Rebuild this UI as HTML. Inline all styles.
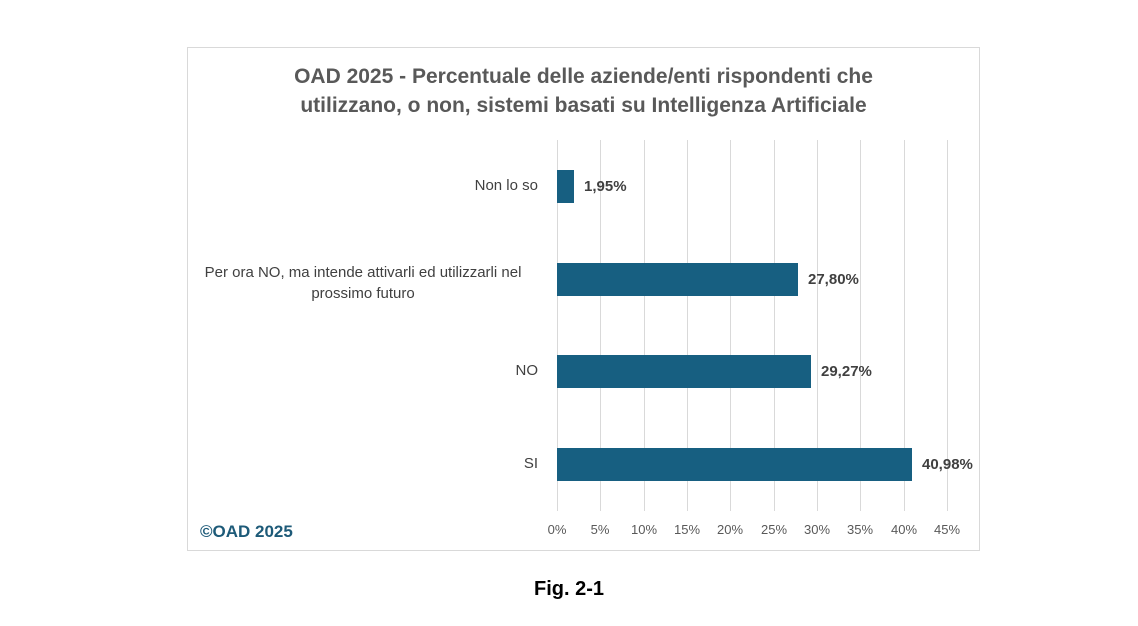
<!DOCTYPE html>
<html><head><meta charset="utf-8"><style>
body{margin:0;width:1138px;height:626px;background:#fff;position:relative;font-family:"Liberation Sans",sans-serif;overflow:hidden}
.box{position:absolute;left:187px;top:47px;width:791px;height:502px;border:1px solid #d9d9d9}
.t{position:absolute;color:#595959}
.g{position:absolute;top:140px;height:371px;width:1px;background:#d9d9d9}
.bar{position:absolute;left:557px;height:33px;background:#175f81}
.lab{position:absolute;font-size:15px;color:#404040;text-align:right}
.val{position:absolute;font-size:15px;font-weight:bold;color:#404040}
.tick{position:absolute;top:522px;font-size:13px;color:#595959;width:40px;margin-left:-20px;text-align:center}
</style></head><body>
<div class="box"></div>
<div class="t" style="left:187px;width:793px;top:62px;text-align:center;font-size:21px;font-weight:bold;line-height:29px">OAD 2025 - Percentuale delle aziende/enti rispondenti che<br>utilizzano, o non, sistemi basati su Intelligenza Artificiale</div>
<div class="g" style="left:557px"></div><div class="g" style="left:600px"></div><div class="g" style="left:644px"></div><div class="g" style="left:687px"></div><div class="g" style="left:730px"></div><div class="g" style="left:774px"></div><div class="g" style="left:817px"></div><div class="g" style="left:860px"></div><div class="g" style="left:904px"></div><div class="g" style="left:947px"></div>
<div class="bar" style="top:170px;width:17px"></div>
<div class="bar" style="top:263px;width:241px"></div>
<div class="bar" style="top:355px;width:254px"></div>
<div class="bar" style="top:448px;width:355px"></div>
<div class="lab" style="right:600px;top:177px">Non lo so</div>
<div class="lab" style="left:193px;top:262px;text-align:center;width:340px;line-height:21px">Per ora NO, ma intende attivarli ed utilizzarli nel<br>prossimo futuro</div>
<div class="lab" style="right:600px;top:362px">NO</div>
<div class="lab" style="right:600px;top:455px">SI</div>
<div class="val" style="left:584px;top:178px">1,95%</div>
<div class="val" style="left:808px;top:271px">27,80%</div>
<div class="val" style="left:821px;top:363px">29,27%</div>
<div class="val" style="left:922px;top:456px">40,98%</div>
<div class="tick" style="left:557px">0%</div><div class="tick" style="left:600px">5%</div><div class="tick" style="left:644px">10%</div><div class="tick" style="left:687px">15%</div><div class="tick" style="left:730px">20%</div><div class="tick" style="left:774px">25%</div><div class="tick" style="left:817px">30%</div><div class="tick" style="left:860px">35%</div><div class="tick" style="left:904px">40%</div><div class="tick" style="left:947px">45%</div>
<div style="position:absolute;left:200px;top:522px;font-size:17px;font-weight:bold;color:#1d5a78">©OAD 2025</div>
<div style="position:absolute;left:0;width:1138px;top:578px;text-align:center;font-size:20px;font-weight:bold;color:#000">Fig. 2-1</div>
</body></html>
